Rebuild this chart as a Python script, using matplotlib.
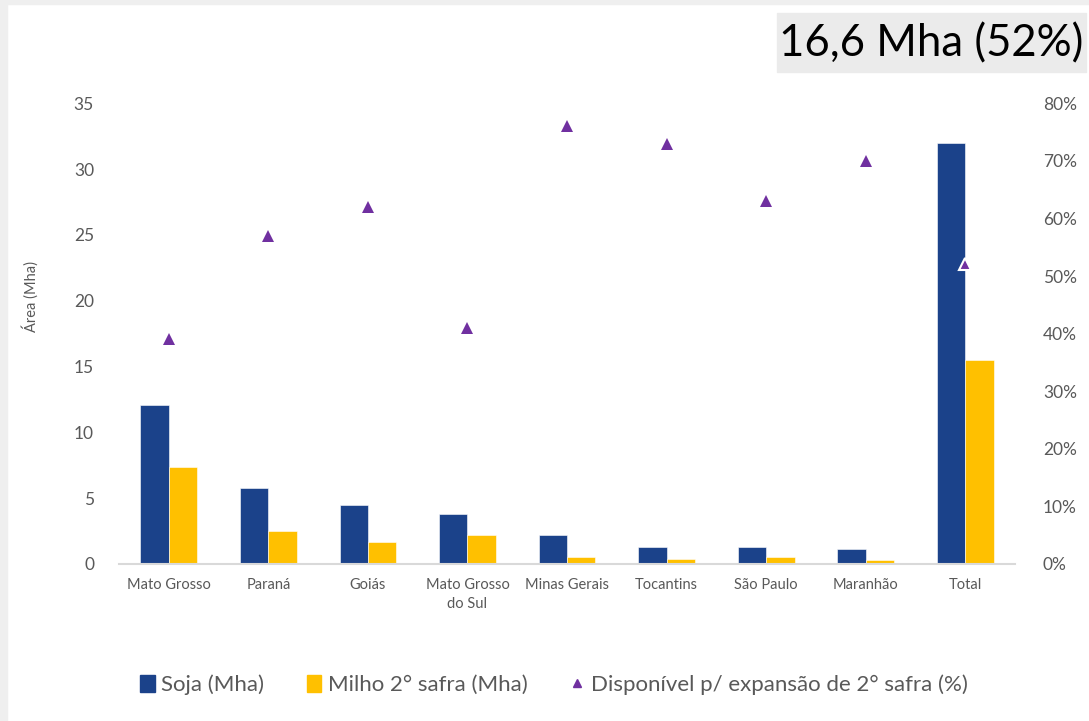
import matplotlib.pyplot as plt
import numpy as np
from matplotlib.patches import Rectangle

plt.rcParams['font.family'] = ['Lato', 'DejaVu Sans']

# Área por estado (Mha) e percentual disponível para 2ª safra
estados = ["Mato Grosso", "Paraná", "Goiás", "Mato Grosso\ndo Sul", "Minas Gerais",
           "Tocantins", "São Paulo", "Maranhão", "Total"]
soja = [12.1, 5.8, 4.5, 3.8, 2.2, 1.3, 1.3, 1.1, 32.0]
milho = [7.4, 2.5, 1.7, 2.2, 0.5, 0.4, 0.5, 0.3, 15.5]
disponivel = [39, 57, 62, 41, 76, 73, 63, 70, 52]

esq_ticks = [0, 5, 10, 15, 20, 25, 30, 35]
dir_ticks = [0, 10, 20, 30, 40, 50, 60, 70, 80]

azul = "#1B428A"
amarelo = "#FFC000"
roxo = "#7030A0"
cinza_txt = "#595959"

fig = plt.figure(figsize=(10.89, 7.21), dpi=100)
fig.patch.set_facecolor("white")
# faixas cinzas nas bordas
fig.patches.append(Rectangle((0, 0), 7 / 1089, 1, transform=fig.transFigure,
                             color="#efefef", zorder=0))
fig.patches.append(Rectangle((0, 1 - 4 / 721), 1, 4 / 721, transform=fig.transFigure,
                             color="#efefef", zorder=0))

ax = fig.add_axes([0.1093, 0.2178, 0.8228, 0.639])
x = np.arange(len(estados))
w = 0.285
ax.bar(x - w / 2, soja, w, color=azul, edgecolor="white", linewidth=0.4,
       label="Soja (Mha)", zorder=2)
ax.bar(x + w / 2, milho, w, color=amarelo, edgecolor="white", linewidth=0.4,
       label="Milho 2° safra (Mha)", zorder=2)
ax.set_xlim(-0.5, len(estados) - 0.5)
ax.set_ylim(0, 35)
ax.set_yticks(esq_ticks)
ax.set_xticks(x)
ax.set_xticklabels(estados, fontsize=10.5, color=cinza_txt, linespacing=1.5)
ax.tick_params(axis="y", length=0, pad=18, labelsize=12.5, labelcolor=cinza_txt)
ax.tick_params(axis="x", length=0, pad=10)
for lado in ["top", "right", "left"]:
    ax.spines[lado].set_visible(False)
ax.spines["bottom"].set_color("#d9d9d9")
ax.spines["bottom"].set_linewidth(1.5)

ax2 = ax.twinx()
cores_borda = ["none"] * (len(estados) - 1) + ["white"]
for i in range(len(estados)):
    ax2.plot(x[i], disponivel[i], marker="^", linestyle="none", markersize=9,
             color=roxo, markeredgecolor=cores_borda[i], markeredgewidth=1.5, zorder=3)
ax2.set_ylim(0, 80)
ax2.set_yticks(dir_ticks)
ax2.set_yticklabels([f"{t}%" for t in dir_ticks])
ax2.tick_params(axis="y", length=0, pad=20, labelsize=12.5, labelcolor=cinza_txt)
for lado in ["top", "right", "left", "bottom"]:
    ax2.spines[lado].set_visible(False)

fig.text(30 / 1089, 1 - 297 / 721, "Área (Mha)", rotation=90, fontsize=10.5,
         color=cinza_txt, ha="center", va="center")

# legenda
h1 = Rectangle((0, 0), 1, 1, color=azul)
h2 = Rectangle((0, 0), 1, 1, color=amarelo)
h3 = plt.Line2D([], [], marker="^", linestyle="none", color=roxo, markersize=6)
fig.legend([h1, h2, h3],
           ["Soja (Mha)", "Milho 2° safra (Mha)", "Disponível p/ expansão de 2° safra (%)"],
           loc="center", bbox_to_anchor=(554 / 1089, 1 - 685 / 721), ncol=3, frameon=False,
           fontsize=16, labelcolor=cinza_txt, handlelength=0.65, handleheight=0.85,
           handletextpad=0.3, columnspacing=1.9)

# destaque do total disponível
fig.patches.append(Rectangle((777 / 1089, 1 - 72 / 721), 309 / 1089, 59 / 721,
                             transform=fig.transFigure, color="#ebebeb", zorder=1))
fig.text(1083 / 1089, 1 - 44 / 721, "16,6 Mha (52%)", fontsize=31.5, color="black",
         ha="right", va="center", zorder=2)

fig.savefig("out.png", dpi=100)
